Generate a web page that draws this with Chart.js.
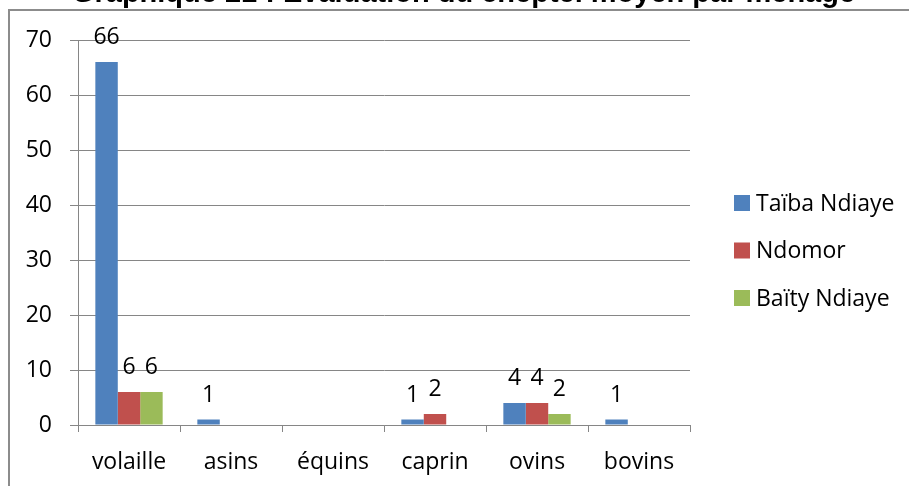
<!DOCTYPE html>
<html>
<head>
<meta charset="utf-8">
<script src="https://cdn.jsdelivr.net/npm/chart.js@4/dist/chart.umd.min.js"></script>
<style>
  html, body { margin: 0; padding: 0; background: #fff; overflow: hidden; }
  #wrap { position: relative; width: 909px; height: 486px; }
  #frame { position: absolute; left: 8px; top: 9px; width: 1000px; height: 1000px; border: 2px solid #8c8c8c; box-sizing: border-box; }
  #title { position: absolute; left: 0; width: 927px; top: -24px; line-height: 24px; text-align: center;
           font: bold 29px "Liberation Sans", Arial, sans-serif; color: #000; white-space: nowrap; }
  #chart-box { position: absolute; left: 0; top: 0; width: 909px; height: 486px; }
</style>
</head>
<body>
<div id="wrap">
  <div id="frame"></div>
  <div id="chart-box"><canvas id="cheptel-chart"></canvas></div>
  <div id="title">Graphique 21 : Évaluation du cheptel moyen par ménage</div>
</div>
<script>
// categories and series values
const categories = ['volaille', 'asins', 'équins', 'caprin', 'ovins', 'bovins'];
const taibaNdiaye = [66, 1, 0, 1, 4, 1];
const ndomor = [6, 0, 0, 2, 4, 0];
const baityNdiaye = [6, 0, 0, 0, 2, 0];
const seriesNames = ['Taïba Ndiaye', 'Ndomor', 'Baïty Ndiaye'];
const yTicks = [0, 10, 20, 30, 40, 50, 60, 70];

const FONT = '"Open Sans", sans-serif';
const gridGrey = '#868686';

// value labels above each non-zero bar
const valueLabels = {
    id: 'valueLabels',
    afterDatasetsDraw(chart) {
        const ctx = chart.ctx;
        ctx.save();
        ctx.font = '23px ' + FONT;
        ctx.fillStyle = '#000';
        ctx.textAlign = 'center';
        ctx.textBaseline = 'alphabetic';
        chart.data.datasets.forEach((ds, i) => {
            chart.getDatasetMeta(i).data.forEach((bar, j) => {
                if (ds.data[j] === 0) return;
                ctx.fillText(String(ds.data[j]), bar.x, bar.y - 18);
            });
        });
        ctx.restore();
    }
};

// legend on the right, drawn like the Excel one
const sideLegend = {
    id: 'sideLegend',
    afterDraw(chart) {
        const ctx = chart.ctx;
        const area = chart.chartArea;
        const x = area.right + 44;
        ctx.save();
        ctx.font = '23px ' + FONT;
        ctx.textBaseline = 'middle';
        ctx.textAlign = 'left';
        chart.data.datasets.forEach((ds, i) => {
            const cy = area.top + 163 + i * 47.5;
            ctx.fillStyle = ds.backgroundColor;
            ctx.fillRect(x, cy - 8, 16, 16);
            ctx.fillStyle = '#000';
            ctx.fillText(ds.label, x + 22, cy + 1);
        });
        ctx.restore();
    }
};

function renderChart() {
    const ctx = document.getElementById('cheptel-chart').getContext('2d');
    new Chart(ctx, {
        type: 'bar',
        data: {
            labels: categories,
            datasets: [
                { label: seriesNames[0], data: taibaNdiaye, backgroundColor: '#4F81BD' },
                { label: seriesNames[1], data: ndomor, backgroundColor: '#C0504D' },
                { label: seriesNames[2], data: baityNdiaye, backgroundColor: '#9BBB59' }
            ]
        },
        options: {
            responsive: true,
            maintainAspectRatio: false,
            animation: false,
            layout: { padding: { top: 40, right: 219, left: 0, bottom: 0 } },
            datasets: { bar: { categoryPercentage: 0.66, barPercentage: 1.0 } },
            plugins: { legend: { display: false }, tooltip: { enabled: false } },
            scales: {
                x: {
                    grid: { display: true, drawOnChartArea: false, drawTicks: true, tickLength: 7, offset: true, color: gridGrey },
                    border: { color: gridGrey, width: 1 },
                    ticks: { color: '#000', font: { family: FONT, size: 23 }, padding: 17, maxRotation: 0 },
                    afterFit(scale) { scale.height = 61; }
                },
                y: {
                    min: 0,
                    max: 70,
                    afterBuildTicks(scale) { scale.ticks = yTicks.map(v => ({ value: v })); },
                    grid: { color: gridGrey, tickLength: 8, drawTicks: true },
                    border: { color: gridGrey, width: 1 },
                    ticks: { color: '#000', font: { family: FONT, size: 23 }, padding: 18 },
                    afterFit(scale) { scale.width = 78; }
                }
            }
        },
        plugins: [valueLabels, sideLegend]
    });
}

renderChart();
</script>
</body>
</html>
